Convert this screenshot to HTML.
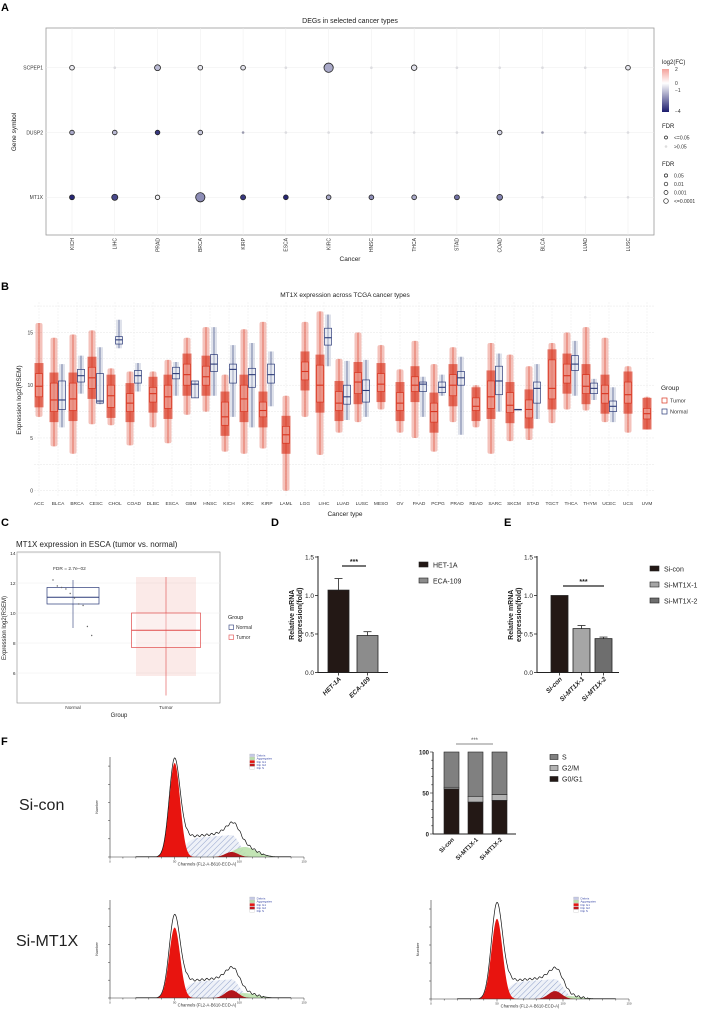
<!DOCTYPE html>
<html><head><meta charset="utf-8">
<style>
html,body{margin:0;padding:0;background:#fff;}
svg{display:block;font-family:"Liberation Sans",Arial,sans-serif;}
</style></head>
<body>
<svg id="fig" width="707" height="1009" viewBox="0 0 707 1009" xmlns="http://www.w3.org/2000/svg">
<defs>
<linearGradient id="fcgrad" x1="0" y1="0" x2="0" y2="1">
<stop offset="0" stop-color="#f4a19a"/><stop offset="0.33" stop-color="#ffffff"/><stop offset="1" stop-color="#1c1c6e"/>
</linearGradient>
<pattern id="hatch" width="4" height="4" patternUnits="userSpaceOnUse" patternTransform="rotate(45)">
<rect width="4" height="4" fill="#eef1f8"/><line x1="0" y1="0" x2="0" y2="4" stroke="#7c8fc0" stroke-width="0.8"/>
</pattern>
</defs>
<g id="panels"></g>
</svg>
<script>
// ---------- Panel A data ----------
const aCancers=["KICH","LIHC","PRAD","BRCA","KIRP","ESCA","KIRC","HNSC","THCA","STAD","COAD","BLCA","LUAD","LUSC"];
const aGenes=["SCPEP1","DUSP2","MT1X"];
const aFC_SCPEP1=[-0.3,-0.2,-1.2,-0.4,-0.5,0,-1.5,0,-0.5,0,0,0,0,-0.4];
const aFC_DUSP2=[-1.5,-1.2,-3.5,-1.0,-3,-1,0,0,0,0,-0.8,-3,0,0];
const aFC_MT1X=[-3.8,-3.2,-0.2,-2,-3.5,-3.8,-1.5,-2,-1.5,-2.5,-2.2,0,0,0];
const aLogFDR_SCPEP1=[1.5,0,3,1.5,1.5,0,7,0,2.5,0,0,0,0,1.5];
const aLogFDR_DUSP2=[1.5,1.5,1.5,1.5,0,0,0,0,0,0,1.5,0,0,0];
const aLogFDR_MT1X=[1.8,3.2,1.3,7,2,1.6,1.6,1.6,1.6,1.8,2.8,0,0,0];
// ---------- Panel B data ----------
const bCancers=["ACC","BLCA","BRCA","CESC","CHOL","COAD","DLBC","ESCA","GBM","HNSC","KICH","KIRC","KIRP","LAML","LGG","LIHC","LUAD","LUSC","MESO","OV","PAAD","PCPG","PRAD","READ","SARC","SKCM","STAD","TGCT","THCA","THYM","UCEC","UCS","UVM"];
const bTumorQ1=[8.9,7.5,7.6,9.7,7.9,7.5,8.4,7.8,10.0,10.0,6.2,7.5,7.0,4.5,10.5,8.4,7.6,9.2,9.4,7.6,9.4,6.5,9.0,7.6,7.8,7.4,6.9,8.7,10.2,9.2,8.3,8.3,6.8];
const bTumorMed=[9.9,8.6,8.7,10.7,9.0,8.3,9.2,8.9,11.0,10.8,7.0,8.7,7.6,5.3,11.3,10.0,8.3,10.3,10.1,8.3,10.0,7.5,10.0,8.0,8.9,8.1,7.7,9.7,10.9,9.9,9.2,9.1,7.3];
const bTumorQ3=[11.1,10.2,10.2,11.7,10.0,9.2,9.8,10.0,12.0,11.8,8.4,10.0,8.4,6.1,12.2,11.9,9.4,11.2,11.1,9.3,10.8,8.3,11.0,8.8,10.4,9.3,8.6,12.4,12.0,11.0,10.0,10.3,7.8];
const bTumorMin=[7,4.2,3.5,6.3,6.2,4.3,6,4.5,7.2,7.5,3.7,3.5,4,0,7,3.4,5.5,6.5,7.7,5.5,5,3.7,6.5,6,3.5,4.7,4.8,6.4,7.7,7.6,6.5,5.5,5.8];
const bTumorMax=[15.9,14.5,14.8,15.2,11.6,11.3,11.3,12.4,14.5,15.5,11,15.3,16,9,16,17,12.5,15,13.8,11.5,14.2,12,13.6,10,14,12.9,11.8,14,15,15.5,14.5,11.8,8.9];
const bHasNormal=[0,1,1,1,1,1,0,1,1,1,1,1,1,0,0,1,1,1,0,0,1,1,1,0,1,1,1,0,1,1,1,0,0];
const bNormQ1=[0,7.7,10.3,8.3,13.9,10.2,0,10.6,8.8,11.3,10.2,9.8,10.2,0,0,13.8,8.2,8.4,0,0,9.4,9.3,10.0,0,9.1,7.7,8.3,0,11.4,9.2,7.5,0,0];
const bNormMed=[0,8.6,10.9,8.5,14.3,10.9,0,11.1,10.1,12.0,11.5,11.0,11.0,0,0,14.5,8.9,9.5,0,0,10.1,9.8,10.7,0,10.4,7.7,9.7,0,12.0,9.7,8.0,0,0];
const bNormQ3=[0,10.4,11.5,11.1,14.6,11.4,0,11.7,10.4,12.9,12.0,11.6,12.0,0,0,15.4,10.0,10.5,0,0,10.3,10.3,11.3,0,11.8,7.7,10.3,0,12.8,10.2,8.5,0,0];
const bNormMin=[0,6,9.2,8.2,13.5,9.4,0,9,8.8,9,7,6,8,0,0,11.8,6.7,7,0,0,7,9,5.3,0,7.5,7.7,6.8,0,9,8.6,6.5,0,0];
const bNormMax=[0,12,12.8,13.6,16.2,12.1,0,12.2,10.4,15.5,13.8,14,13.2,0,0,16.7,12.3,12.4,0,0,10.8,11,12.7,0,13,7.7,12,0,14.2,10.6,9.8,0,0];
const bYTicks=[0,5,10,15];
// ---------- Panel C data ----------
const cGroups=["Normal","Tumor"];
const cQ1=[10.6,7.7],cMed=[11.05,8.85],cQ3=[11.7,10.0],cMin=[9.0,4.5],cMax=[12.2,12.4];
const cNormalPts=[12.2,11.8,11.7,11.6,11.3,11.0,10.6,10.5,9.1,8.5];
const cYTicks=[6,8,10,12,14];
// ---------- Panel D/E data ----------
const dCats=["HET-1A","ECA-109"],dVals=[1.07,0.48],dErr=[0.15,0.05];
const eCats=["Si-con","Si-MT1X-1","Si-MT1X-2"],eVals=[1.0,0.57,0.44],eErr=[0,0.04,0.02];
const deTicks=[0.0,0.5,1.0,1.5];
// ---------- Panel F data ----------
const fCats=["Si-con","Si-MT1X-1","Si-MT1X-2"];
const fG0G1=[55,39,41],fG2M=[2,7,7],fS=[43,54,52];
const fTicks=[0,50,100];
const hG1Height=[0.94,0.72,0.81],hG1Pos=[50,50,50],hOutlineK=[1.05,1.18,1.2];
const hSHeight=[0.22,0.19,0.2],hG2Height=[0.05,0.08,0.08],hAggHeight=[0.1,0.05,0.03];

const NS="http://www.w3.org/2000/svg";
const root=document.getElementById('panels');
function mk(tag,at,parent){const e=document.createElementNS(NS,tag);for(const k in at)e.setAttribute(k,at[k]);(parent||root).appendChild(e);return e;}
function tx(x,y,s,at,parent){const e=mk('text',Object.assign({x:x,y:y},at),parent);e.textContent=s;return e;}
let e;

// ===== panel letters =====
const letters=[["A",1,11],["B",1,290],["C",1,526],["D",271,526],["E",504,526],["F",1,745]];
for(const L of letters){
e=tx(L[1],L[2],L[0],{'font-size':11,'font-weight':'bold'});


}

// ===== Panel A =====
const aL=46,aR=654,aT=28,aB=235;
const ax=i=>72+i*(628-72)/(aCancers.length-1);
const ay=j=>67.7+j*64.8;
e=mk('rect',{x:aL,y:aT,width:aR-aL,height:aB-aT,fill:'#fff',stroke:'#9a9a9a','stroke-width':0.8});


e=tx(350,23,"DEGs in selected cancer types",{'font-size':7,'text-anchor':'middle',fill:'#222'});


for(let i=0;i<aCancers.length;i++){
e=mk('line',{x1:ax(i),x2:ax(i),y1:aT,y2:aB,stroke:'#ececec','stroke-width':0.5});


e=tx(0,0,aCancers[i],{'font-size':5,'text-anchor':'end',transform:`translate(${ax(i)+1.8},238) rotate(-90)`,fill:'#333'});


}
const aFC=[aFC_SCPEP1,aFC_DUSP2,aFC_MT1X],aFDR=[aLogFDR_SCPEP1,aLogFDR_DUSP2,aLogFDR_MT1X];
function fcColor(v){
 let r,g,b;
 if(v>=0){const t=Math.min(v/2,1);r=255;g=255-t*(255-161);b=255-t*(255-154);}
 else{const t=Math.min(-v/4,1);r=255-t*(255-28);g=255-t*(255-28);b=255-t*(255-110);}
 return `rgb(${r|0},${g|0},${b|0})`;
}
for(let j=0;j<aGenes.length;j++){
e=mk('line',{x1:aL,x2:aR,y1:ay(j),y2:ay(j),stroke:'#ececec','stroke-width':0.5});


e=tx(aL-3,ay(j)+1.8,aGenes[j],{'font-size':5,'text-anchor':'end',fill:'#333'});


for(let i=0;i<aCancers.length;i++){
 const f=aFDR[j][i],v=aFC[j][i];
 if(f>=1.3){
  e=mk('circle',{cx:ax(i),cy:ay(j),r:1.7+0.42*Math.min(f,7),fill:fcColor(v),stroke:'#222','stroke-width':0.8});
 }else{
  e=mk('circle',{cx:ax(i),cy:ay(j),r:1.3,fill:v<-2?'#9a9aae':'#dcdce0',stroke:'none'});
 }
 
 
}
}
e=tx(0,0,"Gene symbol",{'font-size':6.5,'text-anchor':'middle',transform:'translate(16,132) rotate(-90)',fill:'#222'});


e=tx(350,261,"Cancer",{'font-size':6.5,'text-anchor':'middle',fill:'#222'});


// legend
e=tx(662,64,"log2(FC)",{'font-size':6,fill:'#222'});


e=mk('rect',{x:662,y:69,width:7,height:43,fill:'url(#fcgrad)'});


const fcLab=[["2",71],["0",85],["\u22121",92],["\u22124",113]];
for(const l of fcLab){e=tx(675,l[1],l[0],{'font-size':5,fill:'#333'});

}
e=tx(662,128,"FDR",{'font-size':6,fill:'#222'});


e=mk('circle',{cx:666,cy:137.5,r:1.5,fill:'#fff',stroke:'#222','stroke-width':0.7});


e=tx(674,139.5,"<=0.05",{'font-size':5,fill:'#333'});


e=mk('circle',{cx:666,cy:146.5,r:1.3,fill:'#ddd'});


e=tx(674,148.5,">0.05",{'font-size':5,fill:'#333'});


e=tx(662,166,"FDR",{'font-size':6,fill:'#222'});


const sz=[["0.05",175.5,1.6],["0.01",184,1.8],["0.001",192.5,2.0],["<=0.0001",201,2.3]];
for(const s of sz){
e=mk('circle',{cx:666,cy:s[1],r:s[2],fill:'#fff',stroke:'#222','stroke-width':0.7});


e=tx(674,s[1]+2,s[0],{'font-size':5,fill:'#333'});


}

// ===== Panel B =====
const bL=34,bR=655,bT=302,bB=497;
const bx=i=>39+i*(647-39)/(bCancers.length-1);
const by=v=>490.7-v*10.55;
const RED='#d9341f',NAVY='#2b3a78';
e=tx(345,297,"MT1X expression across TCGA cancer types",{'font-size':6.5,'text-anchor':'middle',fill:'#222'});


for(let v=0;v<=17.5;v+=2.5){
e=mk('line',{x1:bL,x2:bR,y1:by(v),y2:by(v),stroke:'#e6e6e6','stroke-width':0.5,'stroke-dasharray':'2,1'});


}
for(const t of bYTicks){
e=tx(bL-1,by(t)+1.8,String(t),{'font-size':5,'text-anchor':'end',fill:'#333'});


}
e=tx(0,0,"Expression log2(RSEM)",{'font-size':6.5,'text-anchor':'middle',transform:'translate(21,400) rotate(-90)',fill:'#222'});


function boxAt(cx,w,q1,med,q3,mn,mx,col,name,yf){
 let g=mk('line',{x1:cx,x2:cx,y1:yf(mx),y2:yf(mn),stroke:col,'stroke-width':0.6});
 
 
 g=mk('rect',{x:cx-w/2,y:yf(q3),width:w,height:Math.max(0.5,yf(q1)-yf(q3)),fill:'rgba(255,255,255,0.3)',stroke:col,'stroke-width':0.7});
 
 
 g=mk('line',{x1:cx-w/2,x2:cx+w/2,y1:yf(med),y2:yf(med),stroke:col,'stroke-width':1.1});
 
 
}
for(let i=0;i<bCancers.length;i++){
 e=mk('line',{x1:bx(i),x2:bx(i),y1:bT,y2:bB,stroke:'#ececec','stroke-width':0.5,'stroke-dasharray':'2,1'});
 
 
 const hn=bHasNormal[i];
 const tc=hn?bx(i)-4:bx(i), nc=bx(i)+4;
 e=mk('rect',{x:tc-3.5,y:by(bTumorMax[i]),width:7,height:by(bTumorMin[i])-by(bTumorMax[i]),fill:RED,opacity:0.3,rx:2});
 
 
 e=mk('rect',{x:tc-4.5,y:by(bTumorQ3[i]+1),width:9,height:by(bTumorQ1[i]-1)-by(bTumorQ3[i]+1),fill:RED,opacity:0.65});
 
 
 boxAt(tc,7,bTumorQ1[i],bTumorMed[i],bTumorQ3[i],bTumorMin[i],bTumorMax[i],RED,'tumor-'+bCancers[i].toLowerCase(),by);
 if(hn){
  e=mk('rect',{x:nc-3,y:by(bNormMax[i]),width:6,height:by(bNormMin[i])-by(bNormMax[i]),fill:NAVY,opacity:0.15});
  
  
  boxAt(nc,7,bNormQ1[i],bNormMed[i],bNormQ3[i],bNormMin[i],bNormMax[i],NAVY,'normal-'+bCancers[i].toLowerCase(),by);
 }
 e=tx(bx(i),505,bCancers[i],{'font-size':4.8,'text-anchor':'middle',fill:'#333'});
 
 
}
e=tx(345,516,"Cancer type",{'font-size':6.5,'text-anchor':'middle',fill:'#222'});


e=tx(661,390,"Group",{'font-size':6.5,fill:'#222'});


const bLeg=[["Tumor",RED,398],["Normal",NAVY,409]];
for(const l of bLeg){
e=mk('rect',{x:662,y:l[2],width:5,height:5,fill:'none',stroke:l[1],'stroke-width':0.7});


e=tx(670,l[2]+4.5,l[0],{'font-size':5.5,fill:'#333'});


}

// ===== Panel C =====
const cL=17,cR=220,cT=552,cB=703;
const cy=v=>553+(14-v)*15;
const cx=[73,166];
e=tx(16,547,"MT1X expression in ESCA (tumor vs. normal)",{'font-size':8,fill:'#222'});


e=mk('rect',{x:cL,y:cT,width:cR-cL,height:cB-cT,fill:'#fff',stroke:'#888','stroke-width':0.6});


for(const t of cYTicks){
e=mk('line',{x1:cL,x2:cR,y1:cy(t),y2:cy(t),stroke:'#eee','stroke-width':0.5});


e=tx(cL-1.5,cy(t)+1.8,String(t),{'font-size':4.8,'text-anchor':'end',fill:'#333'});


}
e=tx(0,0,"Expression log2(RSEM)",{'font-size':6,'text-anchor':'middle',transform:'translate(6,628) rotate(-90)',fill:'#222'});


e=mk('rect',{x:136,y:cy(12.4),width:60,height:cy(5.8)-cy(12.4),fill:RED,opacity:0.1});


const cCols=[NAVY,'#e04a4a'];const cW=[52,69];
for(let k=0;k<2;k++){
 boxAt(cx[k],cW[k],cQ1[k],cMed[k],cQ3[k],cMin[k],cMax[k],cCols[k],'panel-c-'+cGroups[k].toLowerCase(),cy);
 e=tx(cx[k],709,cGroups[k],{'font-size':4.8,'text-anchor':'middle',fill:'#333'});
 
 
}
for(let k=0;k<cNormalPts.length;k++){
 e=mk('circle',{cx:cx[0]-20+k*4.3,cy:cy(cNormalPts[k]),r:0.7,fill:'#666'});
 
 
}
e=tx(53,570,"FDR = 2.7e\u221202",{'font-size':4.8,fill:'#333'});


e=tx(119,717,"Group",{'font-size':6,'text-anchor':'middle',fill:'#222'});


e=tx(228,619,"Group",{'font-size':5.5,fill:'#222'});


const cLeg=[["Normal",NAVY,625],["Tumor",'#e04a4a',635]];
for(const l of cLeg){
e=mk('rect',{x:229,y:l[2],width:4.5,height:4.5,fill:'none',stroke:l[1],'stroke-width':0.6});


e=tx(236,l[2]+4,l[0],{'font-size':5,fill:'#333'});


}

// ===== Panels D and E (bar charts) =====
const dey=v=>672.5-v*77;
function barPanel(axX,cats,vals,errs,barX0,barW,gap,cols,prefix,sig,legX,legY0,legStep,titleX){
 let g=mk('line',{x1:axX,x2:axX,y1:dey(1.5)-1,y2:dey(0),stroke:'#222','stroke-width':1});
 
 
 const xEnd=barX0+cats.length*(barW+gap)+2;
 g=mk('line',{x1:axX,x2:xEnd,y1:dey(0),y2:dey(0),stroke:'#222','stroke-width':1});
 
 
 for(const t of deTicks){
  g=mk('line',{x1:axX-3,x2:axX,y1:dey(t),y2:dey(t),stroke:'#222','stroke-width':0.8});
  
  
  g=tx(axX-4,dey(t)+2.3,t.toFixed(1),{'font-size':6.5,'text-anchor':'end',fill:'#222'});
  
  
 }
 for(let i=0;i<cats.length;i++){
  const x=barX0+i*(barW+gap);
  if(errs[i]>0){
   g=mk('line',{x1:x+barW/2,x2:x+barW/2,y1:dey(vals[i]),y2:dey(vals[i]+errs[i]),stroke:'#222','stroke-width':0.8});
   
   
   g=mk('line',{x1:x+barW/2-4,x2:x+barW/2+4,y1:dey(vals[i]+errs[i]),y2:dey(vals[i]+errs[i]),stroke:'#222','stroke-width':0.8});
   
   
  }
  g=mk('rect',{x:x,y:dey(vals[i]),width:barW,height:dey(0)-dey(vals[i]),fill:cols[i],stroke:'#222','stroke-width':0.8});
  
  
  g=mk('line',{x1:x+barW/2,x2:x+barW/2,y1:dey(0),y2:dey(0)+3,stroke:'#222','stroke-width':0.8});
  
  
  g=tx(0,0,cats[i],{'font-size':6.5,'font-weight':'bold','font-style':'italic','text-anchor':'end',transform:`translate(${x+barW/2+3},${dey(0)+7}) rotate(-45)`,fill:'#222'});
  
  
  g=mk('rect',{x:legX,y:legY0+i*legStep-3,width:9,height:5,fill:cols[i],stroke:'#222','stroke-width':0.6});
  
  
  g=tx(legX+14,legY0+i*legStep+2.5,cats[i],{'font-size':7,fill:'#222'});
  
  
 }
 g=mk('line',{x1:sig[0],x2:sig[1],y1:sig[2],y2:sig[2],stroke:'#222','stroke-width':1.2});
 
 
 g=tx((sig[0]+sig[1])/2,sig[2]-2,"***",{'font-size':7,'font-weight':'bold','text-anchor':'middle',fill:'#222'});
 
 
 g=tx(0,0,"Relative mRNA",{'font-size':7,'font-weight':'bold','text-anchor':'middle',transform:`translate(${titleX},${dey(0.75)}) rotate(-90)`,fill:'#222'});
 
 
 g=tx(0,0,"expression(fold)",{'font-size':7,'font-weight':'bold','text-anchor':'middle',transform:`translate(${titleX+8},${dey(0.75)}) rotate(-90)`,fill:'#222'});
 
 
}
barPanel(318,dCats,dVals,dErr,328,21,8,['#231815','#8c8c8c'],'panel-d',[342,366,566],419,565,16,294);
barPanel(537,eCats,eVals,eErr,551,17,5,['#231815','#a6a6a6','#6e6e6e'],'panel-e',[563,604,586],650,569,16,513);

// ===== Panel F: stacked bars =====
const fy=v=>834-v*0.82;
const fAx=433,fBarX0=444,fBarW=15,fGap=9;
e=mk('line',{x1:fAx,x2:fAx,y1:fy(100),y2:fy(0),stroke:'#222','stroke-width':1});


e=mk('line',{x1:fAx,x2:fBarX0+3*(fBarW+fGap),y1:fy(0),y2:fy(0),stroke:'#222','stroke-width':1});


for(let v=0;v<=100;v+=10){
 e=mk('line',{x1:fAx-(v%50===0?3:1.8),x2:fAx,y1:fy(v),y2:fy(v),stroke:'#222','stroke-width':0.6});
 
 
}
for(const t of fTicks){
 e=tx(fAx-4,fy(t)+2.3,String(t),{'font-size':6,'font-weight':'bold','text-anchor':'end',fill:'#222'});
 
 
}
const fPhaseCols=['#231815','#b3b3b3','#808080'];
for(let i=0;i<fCats.length;i++){
 const x=fBarX0+i*(fBarW+fGap);
 const segs=[fG0G1[i],fG2M[i],fS[i]];let base=0;
 const names=['g0g1','g2m','s'];
 for(let k=0;k<3;k++){
  e=mk('rect',{x:x,y:fy(base+segs[k]),width:fBarW,height:fy(base)-fy(base+segs[k]),fill:fPhaseCols[k],stroke:'#222','stroke-width':0.6});
  
  
  base+=segs[k];
 }
 e=tx(0,0,fCats[i],{'font-size':6,'font-weight':'bold','text-anchor':'end',transform:`translate(${x+fBarW/2+3},${fy(0)+6}) rotate(-45)`,fill:'#222'});
 
 
}
e=mk('line',{x1:456,x2:493,y1:744,y2:744,stroke:'#888','stroke-width':1});


e=tx(474.5,742,"***",{'font-size':6,'text-anchor':'middle',fill:'#555'});


const fLeg=[["S",'#808080',757],["G2/M",'#b3b3b3',768],["G0/G1",'#231815',779]];
for(const l of fLeg){
 e=mk('rect',{x:550,y:l[2]-2.5,width:8,height:5,fill:l[1],stroke:'#222','stroke-width':0.6});
 
 
 e=tx(562,l[2]+2.5,l[0],{'font-size':7,fill:'#222'});
 
 
}
e=tx(19,810,"Si-con",{'font-size':16,fill:'#222'});


e=tx(16,946,"Si-MT1X",{'font-size':16,fill:'#222'});



// ===== Panel F: flow histograms =====
const hPos=[[110,304,857,757],[110,304,998,900],[431,629,999,900]];
function gauss(c,m,s){return Math.exp(-(c-m)*(c-m)/(2*s*s));}
for(let h=0;h<3;h++){
 const [x0,x1,yb,yt]=hPos[h];
 const hx=c=>x0+c*(x1-x0)/150, hy=v=>yb-v*(yb-yt);
 const m=hG1Pos[h],m2=m*1.88;
 const G1=c=>hG1Height[h]*gauss(c,m,4.2);
 const G2=c=>hG2Height[h]*gauss(c,m2,5);
 const S=c=>{
  if(c<m)return 0;
  if(c>m2)return hSHeight[h]*gauss(c,m2,6);
  return hSHeight[h]*(1-gauss(c,m,6))*(0.8+0.2*(c-m)/(m2-m));
 };
 const A=c=>hAggHeight[h]*gauss(c,m2+10,9);
 function path(fn){let d=`M${hx(30)},${hy(0)}`;for(let c=30;c<=140;c+=0.5)d+=`L${hx(c).toFixed(2)},${hy(fn(c)).toFixed(2)}`;return d+`L${hx(140)},${hy(0)}Z`;}
 e=mk('path',{d:path(S),fill:'url(#hatch)',stroke:'none'});
 
 
 e=mk('path',{d:path(A),fill:'#b9e0a8',opacity:0.85,stroke:'none'});
 
 
 e=mk('path',{d:path(G1),fill:'#e8140f',stroke:'none'});
 
 
 e=mk('path',{d:path(G2),fill:'#b3161a',stroke:'none'});
 
 
 const O=c=>G1(c)*hOutlineK[h]+S(c)*1.1+G2(c)+A(c)+0.06*gauss(c,m+8,3.5)+0.01*(c>m+8&&c<m2+25?Math.sin(c*1.7):0);
 let d=`M${hx(20)},${hy(0.005)}`;for(let c=20;c<=140;c+=0.5)d+=`L${hx(c).toFixed(2)},${hy(Math.max(0.003,O(c))).toFixed(2)}`;
 e=mk('path',{d:d,fill:'none',stroke:'#111','stroke-width':0.7});
 
 
 e=mk('line',{x1:x0,x2:x0,y1:yt,y2:yb,stroke:'#333','stroke-width':0.6});
 
 
 e=mk('line',{x1:x0,x2:x1,y1:yb,y2:yb,stroke:'#333','stroke-width':0.6});
 
 
 for(let c=0;c<=150;c+=10){
  e=mk('line',{x1:hx(c),x2:hx(c),y1:yb,y2:yb+(c%50===0?2.5:1.5),stroke:'#333','stroke-width':0.5});
  
  
  if(c%50===0){e=tx(hx(c),yb+5.5,String(c),{'font-size':3,'text-anchor':'middle',fill:'#333'});
  
  }
 }
 for(let k=0;k<=5;k++){
  e=mk('line',{x1:x0-2,x2:x0,y1:yb-k*(yb-yt)/5.5,y2:yb-k*(yb-yt)/5.5,stroke:'#333','stroke-width':0.5});
  
  
 }
 e=tx((x0+x1)/2,yb+8.5,"Channels (FL2-A-B610-ECD-A)",{'font-size':4.2,'text-anchor':'middle',fill:'#333'});
 
 
 e=tx(0,0,"Number",{'font-size':3.8,'text-anchor':'middle',transform:`translate(${x0-12},${(yt+yb)/2}) rotate(-90)`,fill:'#333'});
 
 
 const lx=x0+(x1-x0)*0.72,ly=yt-3;
 const hl=[["Debris",'#c5c9e6'],["Aggregates",'#b9e0a8'],["Dip G1",'#e8140f'],["Dip G2",'#c0161a'],["Dip S",'#fff']];
 for(let k=0;k<hl.length;k++){
  e=mk('rect',{x:lx,y:ly+k*3.2,width:5,height:2.6,fill:hl[k][1],stroke:'#999','stroke-width':0.2});
  
  
  e=tx(lx+7,ly+k*3.2+2.4,hl[k][0],{'font-size':3,fill:'#3b4aa8'});
  
  
 }
}
</script>
</body></html>
